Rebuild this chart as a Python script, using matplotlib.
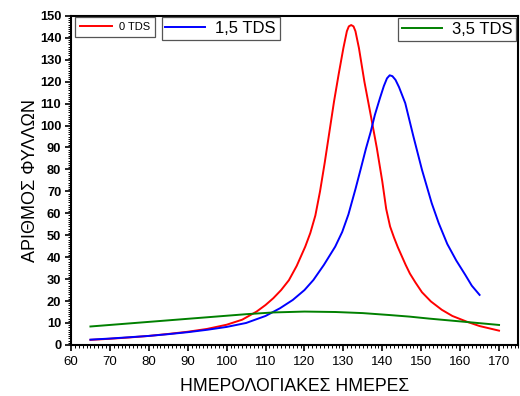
import matplotlib
matplotlib.use("Agg")
import matplotlib.pyplot as plt
from matplotlib.ticker import MultipleLocator

plt.rcParams['font.family'] = ['Liberation Sans', 'DejaVu Sans']

# values
days_0 = [65, 70, 75, 80, 85, 90, 95, 100, 104, 107.7, 110, 112, 114, 116, 118, 120.2, 121.5,
          122.8, 124, 125.2, 126.4, 127.6, 128.8, 130, 130.9, 131.4, 132, 132.6, 133.1, 134,
          135.4, 137, 138.6, 140, 141, 142, 143, 144, 145, 146, 147.1, 148.5, 150.2, 152.5,
          155.3, 158, 161.7, 165, 170]
tds_0 = [2.3, 2.8, 3.4, 4.1, 5.0, 6.0, 7.3, 9.2, 11.5, 15.2, 18.2, 21.3, 25, 29.5, 36, 44.8, 51,
         59, 70, 83, 97, 111, 123.5, 135.3, 143, 145.2, 145.8, 145.2, 143, 135.3,
         120, 105, 89.7, 74.5, 62, 54, 49, 44.5, 40.5, 36.5, 32.5, 28.5, 24, 19.8,
         16, 13.2, 10.6, 8.6, 6.5]

days_15 = [65, 70, 75, 80, 85, 90, 95, 100, 105, 110, 113.7, 117, 120, 122.3, 125, 127.9, 129.7,
           131.3, 133.1, 134.5, 135.8, 137, 138.1, 139.4, 140.4, 141.2, 141.9, 142.6, 143.4,
           144.3, 145.9, 148, 150.2, 152.7, 154.5, 156.7, 159, 161.3, 163, 165]
tds_15 = [2.4, 2.9, 3.5, 4.1, 4.9, 5.8, 6.9, 8.2, 10, 13.2, 16.7, 20.5, 25, 29.6, 36.5, 44.8, 51.5,
          59.5, 71, 80.5, 89.5, 97, 104.9, 112.5, 118, 121.5, 122.9, 122.5, 120.8,
          117.5, 110.2, 95, 79.8, 64.6, 55.5, 46, 38.5, 32, 27, 22.8]

days_35 = [65, 75, 85, 95, 105, 112, 120, 128, 135, 142, 147, 152, 157, 162, 170]
tds_35 = [8.4, 9.8, 11.2, 12.6, 14, 14.8, 15.2, 15, 14.5, 13.6, 12.9, 12.0, 11.2, 10.4, 9.1]

fig = plt.figure(figsize=(5.2, 3.96), dpi=100)
ax = fig.add_axes([0.1365, 0.129, 0.8606, 0.831])

l0, = ax.plot(days_0, tds_0, color='red', lw=1.4)
l15, = ax.plot(days_15, tds_15, color='blue', lw=1.4)
l35, = ax.plot(days_35, tds_35, color='#008000', lw=1.4)

ax.set_xlim(60, 175)
ax.set_ylim(0, 150)
ax.xaxis.set_major_locator(MultipleLocator(10))
ax.xaxis.set_minor_locator(MultipleLocator(1))
ax.yaxis.set_major_locator(MultipleLocator(10))
ax.yaxis.set_minor_locator(MultipleLocator(1))
ax.set_xticks(range(60, 171, 10))
ax.tick_params(which='major', direction='out', length=4, width=1.2, top=False, right=False)
ax.tick_params(which='minor', direction='out', length=2.2, width=0.7, top=False, right=False)
ax.tick_params(axis='x', labelsize=9.5, pad=4)
ax.tick_params(axis='y', labelsize=9.3, pad=3)
for lbl in ax.get_yticklabels():
    lbl.set_fontweight('bold')
for sp in ax.spines.values():
    sp.set_linewidth(1.5)

ax.set_xlabel('ΗΜΕΡΟΛΟΓΙΑΚΕΣ ΗΜΕΡΕΣ', fontsize=12.7, labelpad=7.5)
ax.set_ylabel('ΑΡΙΘΜΟΣ ΦΥΛΛΩΝ', fontsize=13, labelpad=0.5)

leg_kw = dict(fancybox=False, framealpha=1, edgecolor='#555555', borderaxespad=0,
              handletextpad=0.6, bbox_transform=fig.transFigure)
lg0 = ax.legend([l0], ['0 TDS'], fontsize=8, loc='upper left', borderpad=0.45,
                handlelength=2.9, bbox_to_anchor=(0.1442, 0.9563), **leg_kw)
lg0.get_frame().set_linewidth(0.9)
ax.add_artist(lg0)
lg15 = ax.legend([l15], ['1,5 TDS'], fontsize=12, loc='upper left', borderpad=0.22,
                 handlelength=2.4, bbox_to_anchor=(0.311, 0.9563), **leg_kw)
lg15.get_frame().set_linewidth(0.9)
ax.add_artist(lg15)
lg35 = ax.legend([l35], ['3,5 TDS'], fontsize=12, loc='upper right', borderpad=0.22,
                 handlelength=2.4, bbox_to_anchor=(0.9923, 0.9538), **leg_kw)
lg35.get_frame().set_linewidth(0.9)

fig.savefig('out.png', dpi=100)
